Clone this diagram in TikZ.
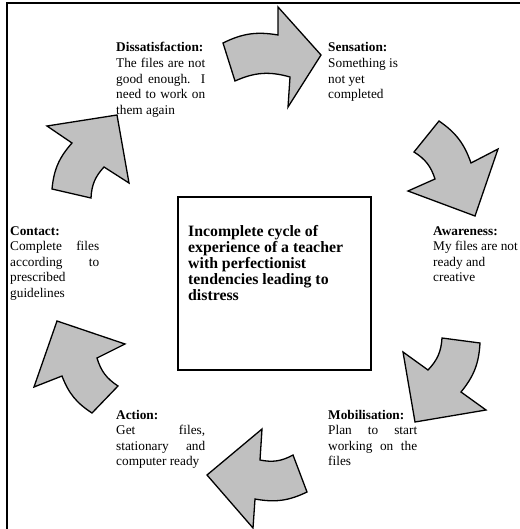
\documentclass[tikz,border=0pt]{standalone}
\usepackage{fontspec}
\setmainfont{Liberation Serif}
\definecolor{arrowgray}{RGB}{192,192,192}
\newcommand{\myjl}[1]{\hbox to 89pt{#1}}
\newcommand{\myrl}[1]{\hbox{#1}}
\tikzset{
  cyc/.style={fill=arrowgray, draw=black, line width=1.3pt, line join=miter},
  lbl/.style={anchor=base west, inner sep=0pt, font=\fontsize{13.3}{15.6}\selectfont},
  ttl/.style={anchor=base west, inner sep=0pt, font=\bfseries\fontsize{15.8}{16}\selectfont},
  framebox/.style={draw, line width=2pt},
  centerbox/.style={draw, line width=1.3pt, inner sep=0pt, minimum width=193pt, minimum height=173pt}
}
\begin{document}
\begin{tikzpicture}[x=1pt, y=-1pt]
\useasboundingbox (0,0) rectangle (519,529);
\draw[framebox] (7,540) -- (7,3) -- (530,3);
% centre box
\node[centerbox] (box) at (274.5,283.5) {};
\node[ttl] (boxtext) at (188,236) {\vtop{\hbox{Incomplete cycle of}\hbox{experience of a teacher}\hbox{with perfectionist}\hbox{tendencies leading to}\hbox{distress}}};
% arrows
\draw[cyc] (223,43) to[bend left=18] (278,35) -- (278,7) -- (321,55) -- (288,107) -- (290,77) to[bend right=20] (235,81) -- cycle;
\draw[cyc] (439,121) to[bend left=18] (471,163) -- (498,149) -- (475,216) -- (408,191) -- (435,179) to[bend right=20] (414,152) -- cycle;
\draw[cyc] (480,343) to[bend left=18] (461,392) -- (486,410) -- (415,422) -- (403,352) -- (428,370) to[bend right=20] (442,338) -- cycle;
\draw[cyc] (307,492) to[bend left=18] (255,499) -- (253,528) -- (207,475) -- (262,429) -- (260,460) to[bend right=20] (293,455) -- cycle;
\draw[cyc] (92,413) to[bend left=18] (62,376) -- (34,387) -- (57,321) -- (125,344) -- (97,358) to[bend right=20] (118,386) -- cycle;
\draw[cyc] (52,189) to[bend left=18] (72,143) -- (47,126) -- (117,115) -- (129,183) -- (104,167) to[bend right=20] (91,198) -- cycle;
% labels
\node[lbl] (dis) at (116,52) {\vtop{\myrl{\bfseries Dissatisfaction:}\myjl{The files are not}\myjl{good enough. I}\myjl{need to work on}\myrl{them again}}};
\node[lbl] (sen) at (328,52) {\vtop{\myrl{\bfseries Sensation:}\myrl{Something is}\myrl{not yet}\myrl{completed}}};
\node[lbl] (awa) at (433,235) {\vtop{\myrl{\bfseries Awareness:}\myrl{My files are not}\myrl{ready and}\myrl{creative}}};
\node[lbl] (mob) at (328,419) {\vtop{\myrl{\bfseries Mobilisation:}\myjl{Plan to start}\myjl{working on the}\myrl{files}}};
\node[lbl] (act) at (116,419) {\vtop{\myrl{\bfseries Action:}\myjl{Get files,}\myjl{stationary and}\myrl{computer ready}}};
\node[lbl] (con) at (10,235) {\vtop{\myrl{\bfseries Contact:}\myjl{Complete files}\myjl{according to}\myrl{prescribed}\myrl{guidelines}}};
\end{tikzpicture}
\end{document}
